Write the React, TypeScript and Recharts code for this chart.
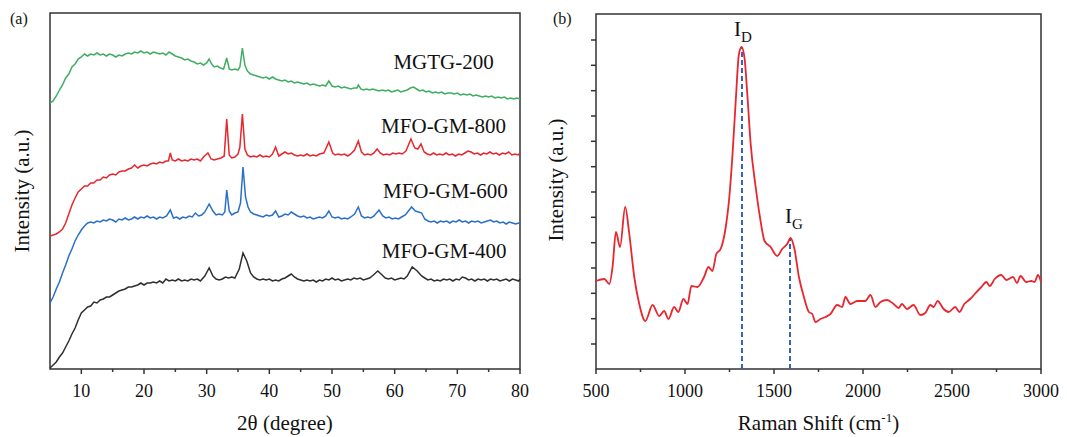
import {
  LineChart,
  Line,
  XAxis,
  YAxis,
  ReferenceArea,
  ReferenceLine,
  ReferenceDot,
  Label
} from 'recharts'

const FONT = '"Liberation Serif", "Times New Roman", serif'
const AXIS = '#333333'

// (a) XRD patterns, stacked with offsets — [2θ, intensity a.u.]
const MGTG_200: [number, number][] = [
  [5, 266], [5.5, 268], [6, 273], [6.5, 279], [7, 284], [7.5, 291], [8, 295], [8.5, 302], [9, 305], [9.5, 310],
  [10, 312], [10.5, 315], [11, 313], [11.5, 315], [12, 314], [12.5, 316], [13, 314], [13.5, 315], [14, 313], [14.5, 315],
  [15, 314], [15.5, 312], [16, 314], [16.5, 313], [17, 315], [17.5, 316], [18, 315], [18.5, 317], [19, 316], [19.5, 318],
  [20, 316], [20.5, 317], [21, 315], [21.5, 317], [22, 316], [22.5, 315], [23, 316], [23.5, 314], [24, 317], [24.5, 315],
  [25, 313], [25.5, 312], [26, 311], [26.5, 309], [27, 310], [27.5, 308], [28, 307], [28.5, 305], [29, 306], [29.5, 304],
  [30, 306], [30.4, 310], [30.8, 305], [31.2, 302], [31.7, 303], [32.2, 301], [32.7, 300], [33.2, 311], [33.6, 300], [34, 299],
  [34.5, 300], [35, 299], [35.3, 302], [35.7, 321], [36.1, 304], [36.5, 298], [37, 295], [37.5, 294], [38, 293], [38.5, 292],
  [39, 291], [39.5, 292], [40, 290], [40.5, 292], [41, 290], [41.5, 289], [42, 288], [42.5, 289], [43, 287], [43.5, 288],
  [44, 286], [44.5, 287], [45, 286], [45.5, 285], [46, 286], [46.5, 284], [47, 285], [47.5, 284], [48, 283], [48.5, 284],
  [49, 283], [49.5, 288], [50, 283], [50.5, 282], [51, 283], [51.5, 281], [52, 282], [52.5, 281], [53, 280], [53.5, 281],
  [54, 281], [54.2, 284], [54.6, 280], [55, 279], [55.5, 280], [56, 279], [56.5, 280], [57, 279], [57.5, 278], [58, 279],
  [58.5, 278], [59, 279], [59.5, 277], [60, 278], [60.5, 279], [61, 277], [61.5, 278], [62, 279], [62.5, 281], [63, 282],
  [63.5, 280], [64, 278], [64.5, 279], [65, 277], [65.5, 278], [66, 276], [66.5, 277], [67, 276], [67.5, 277], [68, 275],
  [68.5, 276], [69, 276], [69.5, 275], [70, 276], [70.5, 274], [71, 275], [71.5, 274], [72, 275], [72.5, 273], [73, 274],
  [73.5, 273], [74, 272], [74.5, 273], [75, 272], [75.5, 273], [76, 271], [76.5, 272], [77, 271], [77.5, 272], [78, 270],
  [78.5, 271], [79, 270], [79.5, 271], [80, 270]
]

const MFO_GM_800: [number, number][] = [
  [5, 133], [5.5, 134], [6, 135], [6.5, 137], [7, 140], [7.5, 146], [8, 155], [8.5, 164], [9, 171], [9.5, 177],
  [10, 180], [10.5, 183], [11, 183], [11.5, 186], [12, 186], [12.5, 189], [13, 189], [13.5, 192], [14, 191], [14.5, 194],
  [15, 195], [15.5, 194], [16, 197], [16.5, 198], [17, 198], [17.5, 200], [18, 201], [18.5, 204], [19, 201], [19.5, 203],
  [20, 204], [20.5, 203], [21, 205], [21.5, 206], [22, 205], [22.5, 207], [23, 206], [23.5, 208], [23.9, 208], [24.2, 216],
  [24.5, 209], [25, 208], [25.5, 210], [26, 208], [26.5, 209], [27, 208], [27.5, 210], [28, 209], [28.5, 210], [29, 208],
  [29.5, 212], [30.2, 216], [30.7, 210], [31.2, 209], [31.7, 210], [32.3, 211], [32.8, 213], [33.2, 250], [33.6, 214], [34, 211],
  [34.5, 212], [35, 215], [35.3, 222], [35.7, 255], [36.1, 220], [36.5, 214], [37, 212], [37.5, 213], [38, 212], [38.5, 214],
  [39, 212], [39.5, 213], [40, 212], [40.5, 215], [41, 222], [41.5, 213], [42, 215], [42.5, 217], [43, 215], [43.5, 216],
  [44, 214], [44.5, 213], [45, 214], [45.5, 213], [46, 215], [46.5, 213], [47, 214], [47.5, 213], [48, 215], [48.7, 216],
  [49.5, 227], [50.1, 216], [50.5, 214], [51, 215], [51.5, 214], [52, 215], [52.5, 213], [53, 215], [53.6, 219], [54.2, 228],
  [54.7, 217], [55.2, 214], [55.7, 215], [56.2, 214], [56.7, 216], [57.2, 220], [57.7, 216], [58.2, 214], [58.7, 215], [59.2, 214],
  [59.7, 216], [60.2, 215], [60.7, 216], [61.2, 215], [61.8, 218], [62.6, 230], [63.2, 221], [63.7, 220], [64.2, 225], [64.7, 217],
  [65.2, 215], [65.7, 214], [66.2, 216], [66.7, 214], [67.2, 215], [67.7, 214], [68.2, 216], [68.7, 214], [69.2, 215], [69.7, 213],
  [70.2, 215], [70.7, 214], [71.2, 216], [71.7, 218], [72.2, 217], [72.7, 215], [73.2, 216], [73.7, 214], [74.2, 216], [74.7, 215],
  [75.2, 217], [75.7, 215], [76.2, 216], [76.7, 214], [77.2, 216], [77.7, 215], [78.2, 217], [78.7, 214], [79.2, 215], [79.7, 214],
  [80, 216]
]

const MFO_GM_600: [number, number][] = [
  [5, 66], [5.5, 72], [6, 80], [6.5, 87], [7, 96], [7.5, 104], [8, 113], [8.5, 120], [9, 128], [9.5, 134],
  [10, 139], [10.5, 143], [11, 146], [11.5, 147], [12, 146], [12.5, 148], [13, 147], [13.5, 149], [14, 148], [14.5, 150],
  [15, 149], [15.5, 147], [16, 150], [16.5, 149], [17, 151], [17.5, 149], [18, 150], [18.5, 152], [19, 150], [19.5, 152],
  [20, 151], [20.5, 153], [21, 151], [21.5, 152], [22, 150], [22.5, 152], [23, 151], [23.6, 153], [24.2, 159], [24.7, 151],
  [25.2, 152], [25.7, 150], [26.2, 152], [26.7, 151], [27.2, 153], [27.7, 152], [28.2, 156], [28.7, 153], [29.2, 154], [29.7, 157],
  [30.4, 165], [31, 158], [31.5, 154], [32, 155], [32.5, 154], [32.9, 157], [33.2, 179], [33.6, 158], [34, 154], [34.5, 156],
  [35, 157], [35.4, 166], [35.8, 202], [36.2, 172], [36.6, 162], [37, 157], [37.5, 155], [38, 154], [38.5, 153], [39, 152],
  [39.5, 154], [40, 153], [40.5, 154], [41, 158], [41.5, 152], [42, 153], [42.5, 155], [43, 154], [43.5, 157], [44, 155],
  [44.5, 153], [45, 152], [45.5, 153], [46, 151], [46.5, 152], [47, 150], [47.5, 151], [48, 152], [48.5, 151], [49, 153],
  [49.5, 158], [50, 152], [50.5, 151], [51, 152], [51.5, 150], [52, 151], [52.5, 150], [53, 152], [53.6, 155], [54.2, 162],
  [54.7, 153], [55.2, 151], [55.7, 152], [56.2, 151], [56.7, 153], [57.5, 159], [58.1, 153], [58.6, 151], [59.1, 152], [59.6, 150],
  [60.1, 151], [60.6, 150], [61.1, 152], [61.7, 154], [62.7, 162], [63.3, 158], [63.8, 157], [64.3, 156], [64.8, 150], [65.3, 148],
  [65.8, 147], [66.3, 148], [66.8, 146], [67.3, 148], [67.8, 147], [68.3, 148], [68.8, 146], [69.3, 148], [69.8, 147], [70.3, 149],
  [70.8, 147], [71.3, 148], [71.8, 146], [72.3, 148], [72.8, 147], [73.3, 148], [73.8, 146], [74.3, 147], [74.8, 148], [75.3, 149],
  [75.8, 147], [76.3, 148], [76.8, 146], [77.3, 147], [77.8, 145], [78.3, 147], [78.8, 146], [79.3, 145], [79.8, 146], [80, 145]
]

const MFO_GM_400: [number, number][] = [
  [5, 1], [5.5, 4], [6, 7], [6.5, 12], [7, 16], [7.5, 22], [8, 28], [8.5, 35], [9, 41], [9.5, 49],
  [10, 56], [10.5, 59], [11, 62], [11.5, 63], [12, 67], [12.5, 66], [13, 69], [13.5, 70], [14, 72], [14.5, 72],
  [15, 74], [15.5, 76], [16, 78], [16.5, 79], [17, 80], [17.5, 82], [18, 82], [18.5, 83], [19, 84], [19.5, 86],
  [20, 84], [20.5, 86], [21, 86], [21.5, 87], [22, 86], [22.5, 88], [23, 86], [23.5, 90], [24, 88], [24.5, 89],
  [25, 88], [25.5, 90], [26, 88], [26.5, 89], [27, 88], [27.5, 90], [28, 89], [28.5, 90], [29, 88], [29.7, 93],
  [30.4, 101], [31, 93], [31.5, 90], [32, 89], [32.5, 90], [33, 92], [33.5, 91], [34, 92], [34.5, 91], [35.2, 100],
  [35.8, 116], [36.4, 108], [37, 96], [37.5, 92], [38, 90], [38.5, 89], [39, 90], [39.5, 89], [40, 90], [40.5, 88],
  [41, 89], [41.5, 88], [42, 90], [42.5, 91], [43, 93], [43.5, 95], [44, 92], [44.5, 90], [45, 89], [45.5, 88],
  [46, 89], [46.5, 88], [47, 89], [47.5, 87], [48, 89], [48.5, 88], [49, 90], [49.5, 89], [50, 91], [50.5, 89],
  [51, 90], [51.5, 88], [52, 89], [52.5, 90], [53, 89], [53.5, 91], [54, 90], [54.5, 91], [55, 89], [55.5, 90],
  [56, 91], [56.6, 94], [57.3, 98], [58, 94], [58.5, 91], [59, 90], [59.5, 91], [60, 89], [60.5, 90], [61, 91],
  [61.5, 90], [62, 93], [62.8, 102], [63.6, 98], [64.3, 93], [64.8, 91], [65.3, 89], [65.8, 90], [66.3, 88], [66.8, 89],
  [67.3, 88], [67.8, 90], [68.3, 89], [68.8, 90], [69.3, 88], [69.8, 90], [70.3, 89], [70.8, 92], [71.3, 91], [71.8, 89],
  [72.3, 90], [72.8, 88], [73.3, 90], [73.8, 89], [74.3, 90], [74.8, 88], [75.3, 90], [75.8, 89], [76.3, 90], [76.8, 88],
  [77.3, 89], [77.8, 90], [78.3, 88], [78.8, 90], [79.3, 89], [79.8, 88], [80, 90]
]

// (b) Raman spectrum — [shift cm-1, intensity a.u.]
const RAMAN: [number, number][] = [
  [500, 88], [547, 90], [575, 85], [593, 102], [612, 137], [635, 122], [664, 162], [687, 135], [715, 92], [743, 65],
  [777, 48], [818, 64], [855, 53], [883, 58], [907, 50], [939, 62], [962, 57], [991, 70], [1014, 65], [1036, 83],
  [1070, 82], [1107, 92], [1132, 102], [1154, 98], [1176, 115], [1200, 120], [1229, 142], [1247, 168], [1266, 212], [1285, 268],
  [1303, 315], [1318, 322], [1335, 310], [1350, 275], [1369, 225], [1397, 182], [1421, 152], [1447, 128], [1481, 122], [1518, 113],
  [1546, 120], [1574, 125], [1593, 131], [1615, 120], [1640, 92], [1668, 72], [1696, 57], [1715, 55], [1733, 47], [1761, 50],
  [1789, 52], [1817, 55], [1855, 64], [1883, 62], [1901, 72], [1929, 65], [1967, 68], [2013, 68], [2042, 74], [2070, 62],
  [2098, 67], [2135, 69], [2172, 65], [2200, 61], [2219, 65], [2247, 60], [2284, 64], [2322, 54], [2350, 56], [2378, 64],
  [2397, 62], [2419, 68], [2453, 60], [2481, 57], [2518, 62], [2542, 57], [2569, 65], [2602, 70], [2628, 75], [2665, 82],
  [2693, 87], [2712, 83], [2740, 90], [2777, 94], [2805, 89], [2843, 92], [2865, 86], [2885, 93], [2917, 87], [2945, 88],
  [2964, 87], [2983, 94], [3000, 87]
]

const XRD_NAMES = ['MGTG-200', 'MFO-GM-800', 'MFO-GM-600', 'MFO-GM-400']
const XRD_TICKS = [10, 15, 20, 25, 30, 35, 40, 45, 50, 55, 60, 65, 70, 75, 80]
const RAMAN_X_TICKS = [500, 750, 1000, 1250, 1500, 1750, 2000, 2250, 2500, 2750, 3000]
const RAMAN_Y_TICKS = [25, 50.3, 75.7, 101, 126.3, 151.7, 177, 202.3, 227.7, 253, 278.3, 303.7, 329]
const PEAKS = [
  { name: 'D', shift: 1320, top: 322 },
  { name: 'G', shift: 1590, top: 131 }
]

const toPoints = (arr: [number, number][]) => arr.map(([x, y]) => ({ x, y }))

const makeXTick = (step: number) => (props: any) => {
  const { x, y, payload } = props
  const major = payload.value % step === 0
  return (
    <g>
      <line x1={x} x2={x} y1={y} y2={y + (major ? 5 : 3)} stroke={AXIS} strokeWidth={1.5} />
      {major && (
        <text x={x} y={y + 28} textAnchor="middle" fontSize={18} fontFamily={FONT} fill="#111">
          {payload.value}
        </text>
      )}
    </g>
  )
}

const YTick = (props: any) => (
  <line x1={props.x} x2={props.x - 5} y1={props.y} y2={props.y} stroke={AXIS} strokeWidth={1.5} />
)

const yTitle = (cx: number, cy: number) => () => (
  <text
    transform={`translate(${cx},${cy}) rotate(-90)`}
    textAnchor="middle"
    dominantBaseline="central"
    fontSize={21}
    fontFamily={FONT}
    fill="#111"
  >
    Intensity (a.u.)
  </text>
)

const SeriesLabel = ({ viewBox, text }: any) => (
  <text x={viewBox.x} y={viewBox.y} textAnchor="middle" fontSize={21} fontFamily={FONT} fill="#111">
    {text}
  </text>
)

const PeakLabel = ({ viewBox, sub, dx }: any) => (
  <text x={viewBox.x + dx} y={viewBox.y} fontSize={21} fontFamily={FONT} fill="#111">
    I<tspan dy={6} fontSize={15}>{sub}</tspan>
  </text>
)

const XRD_SERIES = [
  { data: MGTG_200, color: '#3fae61' },
  { data: MFO_GM_800, color: '#e8262d' },
  { data: MFO_GM_600, color: '#2a6fc9' },
  { data: MFO_GM_400, color: '#2f2f2f' }
]

const panelLabel = (left: number, text: string) => (
  <div style={{ position: 'absolute', left, top: 10, fontFamily: FONT, fontSize: 16, color: '#111' }}>{text}</div>
)

export default function App() {
  return (
    <div style={{ position: 'absolute', left: 0, top: 0, width: 1067, height: 437, background: '#fff' }}>
      {panelLabel(10, '(a)')}
      {panelLabel(553, '(b)')}

      {/* (a) XRD */}
      <div style={{ position: 'absolute', left: 0, top: 0 }}>
        <LineChart width={540} height={437} margin={{ top: 13, right: 20, left: 0, bottom: 0 }}>
          <XAxis
            dataKey="x"
            type="number"
            domain={[5, 80]}
            ticks={XRD_TICKS}
            interval={0}
            axisLine={false}
            tickLine={false}
            tickSize={0}
            tickMargin={0}
            height={68}
            tick={makeXTick(10)}
          >
            <Label
              content={(p: any) => (
                <text
                  x={p.viewBox.x + p.viewBox.width / 2}
                  y={p.viewBox.y + 61}
                  textAnchor="middle"
                  fontSize={21}
                  fontFamily={FONT}
                  fill="#111"
                >
                  2θ (degree)
                </text>
              )}
            />
          </XAxis>
          <YAxis
            type="number"
            domain={[0, 356]}
            width={50}
            axisLine={false}
            tickLine={false}
            tick={false}
          >
            <Label content={yTitle(22, 191)} />
          </YAxis>
          <ReferenceArea x1={5} x2={80} y1={0} y2={356} fill="none" stroke={AXIS} strokeWidth={1.5} />
          {XRD_SERIES.map((s, i) => (
            <Line
              key={XRD_NAMES[i]}
              data={toPoints(s.data)}
              dataKey="y"
              type="linear"
              stroke={s.color}
              strokeWidth={1.5}
              dot={false}
              activeDot={false}
              isAnimationActive={false}
            />
          ))}
          <ReferenceDot x={67.8} y={300} r={0} fill="none" stroke="none" label={<SeriesLabel text={XRD_NAMES[0]} />} />
          <ReferenceDot x={67.8} y={236} r={0} fill="none" stroke="none" label={<SeriesLabel text={XRD_NAMES[1]} />} />
          <ReferenceDot x={68.1} y={171} r={0} fill="none" stroke="none" label={<SeriesLabel text={XRD_NAMES[2]} />} />
          <ReferenceDot x={67.9} y={111} r={0} fill="none" stroke="none" label={<SeriesLabel text={XRD_NAMES[3]} />} />
        </LineChart>
      </div>

      {/* (b) Raman */}
      <div style={{ position: 'absolute', left: 540, top: 0 }}>
        <LineChart width={527} height={437} margin={{ top: 14, right: 26, left: 0, bottom: 0 }}>
          <XAxis
            dataKey="x"
            type="number"
            domain={[500, 3000]}
            ticks={RAMAN_X_TICKS}
            interval={0}
            axisLine={false}
            tickLine={false}
            tickSize={0}
            tickMargin={0}
            height={68}
            tick={makeXTick(500)}
          >
            <Label
              content={(p: any) => (
                <text
                  x={p.viewBox.x + p.viewBox.width / 2}
                  y={p.viewBox.y + 61}
                  textAnchor="middle"
                  fontSize={21}
                  fontFamily={FONT}
                  fill="#111"
                >
                  Raman Shift (cm<tspan dy={-8} fontSize={13}>-1</tspan>
                  <tspan dy={8}>)</tspan>
                </text>
              )}
            />
          </XAxis>
          <YAxis
            type="number"
            domain={[0, 355]}
            ticks={RAMAN_Y_TICKS}
            interval={0}
            width={56}
            axisLine={false}
            tickLine={false}
            tickSize={0}
            tickMargin={0}
            tick={YTick}
          >
            <Label content={yTitle(16, 180)} />
          </YAxis>
          <ReferenceArea x1={500} x2={3000} y1={0} y2={355} fill="none" stroke={AXIS} strokeWidth={1.5} />
          {PEAKS.map((p) => (
            <ReferenceLine
              key={p.name}
              segment={[{ x: p.shift, y: 0 }, { x: p.shift, y: p.top }]}
              stroke="#2f5fc8"
              strokeWidth={2}
              strokeDasharray="5 3"
            />
          ))}
          <Line
            data={toPoints(RAMAN)}
            dataKey="y"
            type="monotone"
            stroke="#e8262d"
            strokeWidth={1.8}
            dot={false}
            activeDot={false}
            isAnimationActive={false}
          />
          <ReferenceDot x={PEAKS[0].shift} y={333} r={0} fill="none" stroke="none" label={<PeakLabel sub="D" dx={-8} />} />
          <ReferenceDot x={PEAKS[1].shift} y={146} r={0} fill="none" stroke="none" label={<PeakLabel sub="G" dx={-5} />} />
        </LineChart>
      </div>
    </div>
  )
}
